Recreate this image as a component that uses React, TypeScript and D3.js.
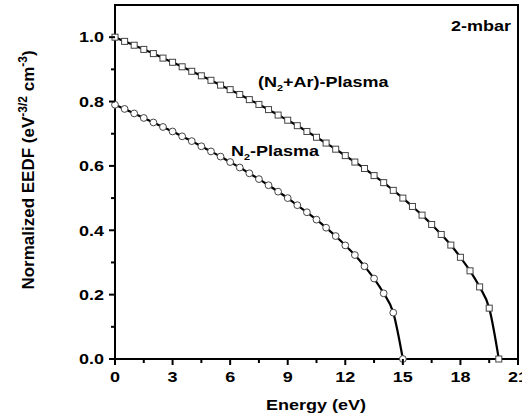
import React from "react";
import * as d3 from "d3";

const energyN2 = [0,0.5,1,1.5,2,2.5,3,3.5,4,4.5,5,5.5,6,6.5,7,7.5,8,8.5,9,9.5,10,10.5,11,11.5,12,12.5,13,13.5,14,14.5,15];
const eedfN2 = [0.790,0.777,0.763,0.749,0.735,0.721,0.707,0.692,0.677,0.661,0.645,0.629,0.612,0.595,0.577,0.559,0.540,0.520,0.500,0.478,0.456,0.433,0.408,0.382,0.353,0.323,0.288,0.250,0.204,0.144,0.0];
const energyAr = [0,0.5,1,1.5,2,2.5,3,3.5,4,4.5,5,5.5,6,6.5,7,7.5,8,8.5,9,9.5,10,10.5,11,11.5,12,12.5,13,13.5,14,14.5,15,15.5,16,16.5,17,17.5,18,18.5,19,19.5,20];
const eedfAr = [1.000,0.987,0.975,0.962,0.949,0.935,0.922,0.908,0.894,0.880,0.866,0.851,0.837,0.822,0.806,0.791,0.775,0.758,0.742,0.725,0.707,0.689,0.671,0.652,0.632,0.612,0.592,0.570,0.548,0.524,0.500,0.474,0.447,0.418,0.387,0.354,0.316,0.274,0.224,0.158,0.0];
const xMajorTicks = [0,3,6,9,12,15,18,21];
const xMinorTicks = [1.5,4.5,7.5,10.5,13.5,16.5,19.5];
const yMajorTicks = [0,0.2,0.4,0.6,0.8,1.0];
const yMinorTicks = [0.1,0.3,0.5,0.7,0.9];

const W = 522, H = 419;
const FONT = "'Liberation Sans', Arial, sans-serif";
const SX = 1.2;

const x = d3.scaleLinear().domain([0, 21]).range([115, 518]);
const y = d3.scaleLinear().domain([0, 1.1]).range([359, 5]);

const line = d3.line<[number, number]>()
  .x(d => x(d[0]))
  .y(d => y(d[1]))
  .curve(d3.curveMonotoneX);

function SText({ x: tx, y: ty, anchor = "start", size = 15, children }: any) {
  return (
    <g transform={`translate(${tx},${ty}) scale(${SX},1)`}>
      <text x={0} y={0} textAnchor={anchor} fontFamily={FONT} fontWeight="bold" fontSize={size} fill="#000">
        {children}
      </text>
    </g>
  );
}

export default function App() {
  const n2pts: [number, number][] = energyN2.map((e, i) => [e, eedfN2[i]]);
  const arpts: [number, number][] = energyAr.map((e, i) => [e, eedfAr[i]]);
  return (
    <svg width={W} height={H} style={{ position: "absolute", left: 0, top: 0, background: "#fff" }}>
      <rect x={0} y={0} width={W} height={H} fill="#fff" />
      {/* frame */}
      <rect x={x(0)} y={y(1.1)} width={x(21) - x(0)} height={y(0) - y(1.1)} fill="none" stroke="#000" strokeWidth={2} />
      {/* curves */}
      <path d={line(n2pts) || ""} fill="none" stroke="#000" strokeWidth={2.2} />
      <path d={line(arpts) || ""} fill="none" stroke="#000" strokeWidth={2.2} />
      {n2pts.map((p, i) => (
        <circle key={"c" + i} cx={x(p[0])} cy={y(p[1])} r={3.4} fill="#fff" stroke="#444" strokeWidth={1} />
      ))}
      {arpts.map((p, i) => (
        <rect key={"s" + i} x={x(p[0]) - 3} y={y(p[1]) - 3} width={6} height={6} fill="#fff" stroke="#444" strokeWidth={1} />
      ))}
      {/* x ticks */}
      {xMajorTicks.map(t => (
        <line key={"xm" + t} x1={x(t)} x2={x(t)} y1={y(0)} y2={y(0) + 6} stroke="#000" strokeWidth={2} />
      ))}
      {xMinorTicks.map(t => (
        <line key={"xn" + t} x1={x(t)} x2={x(t)} y1={y(0)} y2={y(0) + 4} stroke="#000" strokeWidth={2} />
      ))}
      {xMajorTicks.map(t => (
        <SText key={"xl" + t} x={x(t)} y={382} anchor="middle">{String(t)}</SText>
      ))}
      {/* y ticks */}
      {yMajorTicks.map(t => (
        <line key={"ym" + t} x1={x(0) - 6} x2={x(0)} y1={y(t)} y2={y(t)} stroke="#000" strokeWidth={2} />
      ))}
      {yMinorTicks.map(t => (
        <line key={"yn" + t} x1={x(0) - 4} x2={x(0)} y1={y(t)} y2={y(t)} stroke="#000" strokeWidth={2} />
      ))}
      {yMajorTicks.map(t => (
        <SText key={"yl" + t} x={104} y={y(t) + 5.3} anchor="end">{d3.format(".1f")(t)}</SText>
      ))}
      {/* axis titles */}
      <SText x={266} y={410}>Energy (eV)</SText>
      <text transform={`translate(34,170) rotate(-90)`} textAnchor="middle" fontFamily={FONT} fontWeight="bold" fontSize={17} fill="#000">
        Normalized EEDF (eV<tspan fontSize={12} dy={-7}>-3/2</tspan><tspan dy={7}> cm</tspan><tspan fontSize={12} dy={-7}>-3</tspan><tspan dy={7}>)</tspan>
      </text>
      {/* annotations */}
      <SText x={511} y={31} anchor="end">2-mbar</SText>
      <SText x={258} y={87}>(N<tspan fontSize={9} dy={4}>2</tspan><tspan dy={-4}>+Ar)-Plasma</tspan></SText>
      <SText x={231} y={156}>N<tspan fontSize={9} dy={4}>2</tspan><tspan dy={-4}>-Plasma</tspan></SText>
    </svg>
  );
}
